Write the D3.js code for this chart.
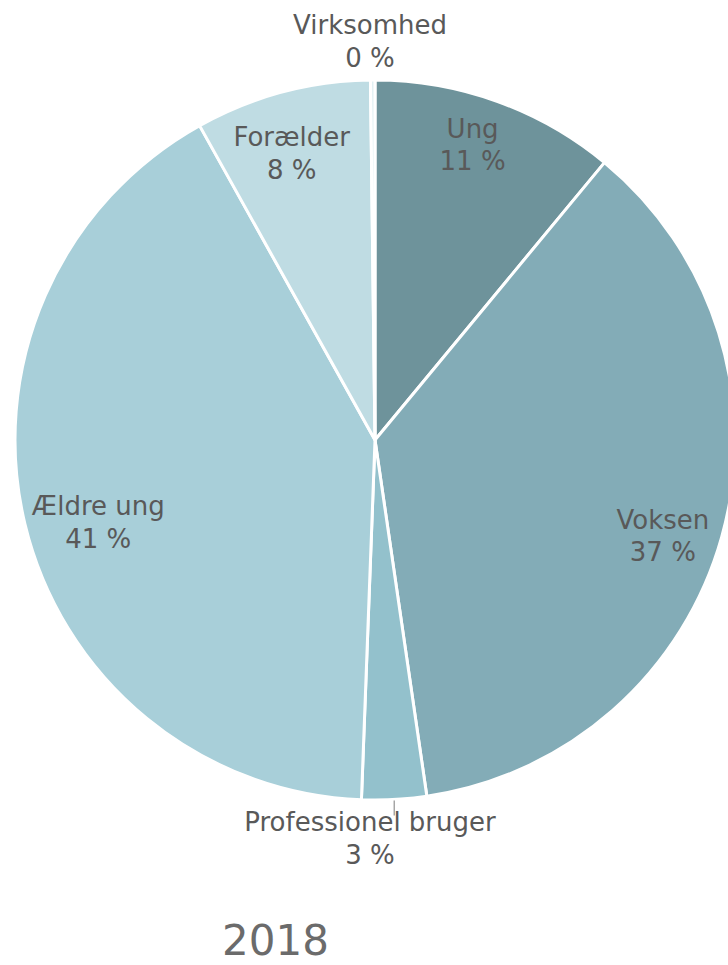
<!DOCTYPE html>
<html>
<head>
<meta charset="utf-8">
<script src="https://cdn.jsdelivr.net/npm/d3@7"></script>
<style>
  body { margin: 0; background: #fff; }
  svg { display: block; font-family: "DejaVu Sans", Verdana, sans-serif; }
</style>
</head>
<body>
<svg id="chart" width="728" height="965"></svg>
<script>
// Slices, clockwise from 12 o'clock
const categories = ["Ung", "Voksen", "Professionel bruger", "Ældre ung", "Forælder", "Virksomhed"];
const shares = [11.0, 36.7, 2.9, 41.3, 7.9, 0.2];
const shareLabels = ["11 %", "37 %", "3 %", "41 %", "8 %", "0 %"];
const sliceColors = ["#6e939b", "#83acb7", "#93c1cc", "#a8cfd9", "#bfdce3", "#e2f0f3"];
const outsideLabels = ["Professionel bruger", "Virksomhed"];
const title = "2018";

const width = 728, height = 965;
const cx = 375, cy = 440, radius = 360;

const svg = d3.select("#chart");
const g = svg.append("g").attr("transform", `translate(${cx},${cy})`);

const data = categories.map((c, i) => ({ name: c, value: shares[i], label: shareLabels[i], color: sliceColors[i] }));

const pie = d3.pie().sort(null).value(d => d.value);
const arcs = pie(data);

const arc = d3.arc().innerRadius(0).outerRadius(radius);
const labelArc = d3.arc().innerRadius(300).outerRadius(300);

g.selectAll(".slice")
    .data(arcs)
    .enter().append("path")
    .attr("class", "slice")
    .attr("d", arc)
    .attr("fill", d => d.data.color)
    .attr("stroke", "#fff")
    .attr("stroke-width", 3)
    .attr("stroke-linejoin", "round");

const midPoint = (d, r) => {
    const a = (d.startAngle + d.endAngle) / 2;
    return [r * Math.sin(a), -r * Math.cos(a)];
};

// small manual shifts so the inside labels sit like in the original
const nudge = {
    "Ung": [-4, -13],
    "Voksen": [-1, 15],
    "Ældre ung": [15, 12],
    "Forælder": [-6, 3]
};

const lineH = 32.5;

// Labels
arcs.forEach(d => {
    const outside = outsideLabels.includes(d.data.name);
    let x, y;
    if (outside) {
        const p = midPoint(d, 399);
        x = -5;
        y = p[1];
    } else {
        [x, y] = labelArc.centroid(d);
        const n = nudge[d.data.name] || [0, 0];
        x += n[0];
        y += n[1];
    }
    const t = g.append("text")
        .attr("text-anchor", "middle")
        .attr("fill", "#595959")
        .style("font-size", "26px");
    t.append("tspan").attr("x", x).attr("y", y - 7).text(d.data.name);
    t.append("tspan").attr("x", x).attr("y", y - 7 + lineH).text(d.data.label);

    // leader line for the bottom outside label
    if (outside && d.data.name === "Professionel bruger") {
        const p1 = midPoint(d, radius + 1);
        g.append("line")
            .attr("x1", p1[0]).attr("y1", p1[1])
            .attr("x2", p1[0]).attr("y2", p1[1] + 15)
            .attr("stroke", "#a6a6a6")
            .attr("stroke-width", 1.5);
    }
});

svg.append("text")
    .attr("x", 275.5)
    .attr("y", 955)
    .attr("text-anchor", "middle")
    .attr("fill", "#6b6b6b")
    .style("font-size", "42px")
    .text(title);
</script>
</body>
</html>
